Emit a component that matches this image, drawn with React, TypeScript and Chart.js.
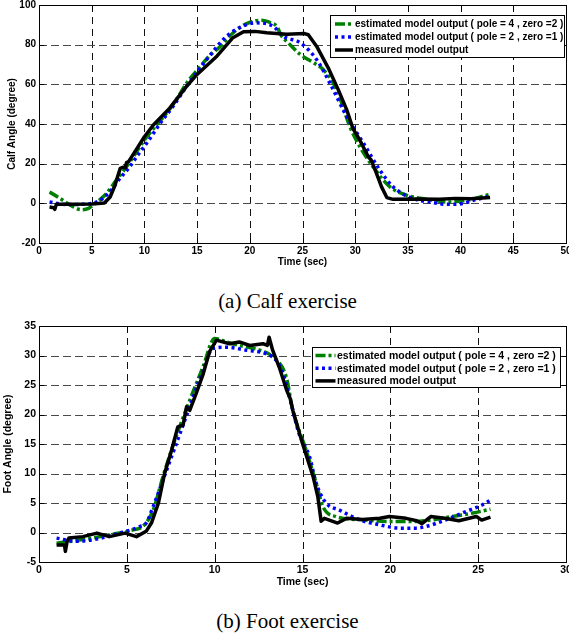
import React, { useEffect, useRef } from 'react';
import { Chart, registerables } from 'chart.js';

Chart.register(...registerables);

// ---------- DATA ----------
const SERIES_LABELS = [
  'estimated model output ( pole = 4 , zero =2 )',
  'estimated model output ( pole = 2 , zero =1 )',
  'measured model output',
];

// (a) Calf exercise
const calfXRange = [0, 50];
const calfYRange = [-20, 100];
const calfXStep = 5;
const calfYStep = 20;

const calfGreenT = [1.0, 2.0, 3.0, 4.0, 4.7, 5.5, 6.4, 7.3, 8.3, 9.2, 10.0, 11.0, 12.1, 13.0, 14.0, 15.3, 16.2, 17.2, 18.4, 19.7, 21.1, 22.0, 22.55, 23.0, 23.65, 24.8, 26.0, 27.0, 28.25, 29.5, 30.45, 31.7, 33.3, 34.9, 37.1, 38.7, 40.6, 42.8];
const calfGreenY = [5.7, 2.5, -1.0, -3.2, -2.5, 0.7, 4.9, 11.5, 18.4, 25.5, 31.9, 38.5, 45.4, 52.0, 60.6, 69.0, 74.5, 79.1, 85.9, 90.6, 92.3, 91.0, 89.3, 84.5, 80.9, 75.0, 71.0, 67.3, 57.2, 38.6, 28.5, 18.4, 8.3, 4.05, 1.85, 0.7, 1.5, 4.6];

const calfBlueT = [1.0, 2.0, 3.0, 4.0, 5.0, 5.8, 6.7, 7.6, 8.6, 9.4, 10.2, 11.5, 12.8, 14.0, 15.9, 17.8, 19.7, 20.65, 22.2, 23.2, 24.8, 26.35, 27.6, 29.2, 30.8, 32.35, 33.6, 35.5, 37.1, 38.7, 39.9, 41.5, 42.8];
const calfBlueY = [0.7, -0.3, -0.6, -0.5, 0.0, 1.5, 5.7, 12.0, 18.4, 24.5, 30.2, 40.3, 49.5, 58.9, 72.4, 84.2, 90.1, 91.0, 89.3, 84.2, 80.9, 72.4, 60.6, 43.7, 30.2, 16.7, 8.3, 2.4, 0.7, -0.5, -0.3, 1.9, 3.6];

const calfBlackT = [1.0, 1.4, 1.5, 1.65, 3.0, 5.0, 6.2, 6.75, 7.2, 7.7, 8.0, 8.2, 8.3, 8.5, 9.3, 10.0, 10.85, 12.4, 14.0, 15.0, 16.9, 18.4, 19.4, 20.5, 21.6, 23.5, 25.2, 25.55, 26.35, 27.45, 28.4, 29.2, 29.8, 30.2, 30.6, 31.0, 31.25, 31.5, 31.9, 32.5, 33.0, 33.6, 36.0, 38.0, 39.5, 41.0, 42.8];
const calfBlackY = [-1.9, -2.2, -3.0, -0.5, -0.4, -0.3, 0.2, 3.2, 9.0, 17.6, 18.2, 18.0, 20.5, 21.0, 27.7, 33.6, 39.5, 48.0, 59.0, 65.0, 74.3, 83.5, 86.5, 86.7, 86.0, 85.3, 85.6, 85.0, 79.1, 68.2, 57.2, 47.1, 37.5, 34.0, 30.2, 26.0, 23.4, 22.0, 16.7, 8.3, 2.9, 2.0, 2.2, 2.0, 2.5, 2.3, 3.0];

// (b) Foot exercise
const footXRange = [0, 30];
const footYRange = [-5, 35];
const footXStep = 5;
const footYStep = 5;

const footGreenT = [1.0, 2.5, 4.0, 5.36, 5.9, 6.5, 7.06, 7.8, 8.58, 9.34, 10.0, 10.66, 11.4, 12.56, 13.3, 14.07, 14.45, 15.2, 15.78, 16.16, 16.9, 18.4, 19.94, 21.3, 22.4, 23.5, 24.7, 25.7];
const footGreenY = [-1.8, -1.2, -0.4, 0.45, 1.0, 3.8, 9.5, 16.2, 22.4, 28.1, 32.9, 32.3, 31.7, 30.9, 29.8, 26.4, 20.7, 14.0, 8.35, 4.4, 2.7, 2.15, 1.86, 1.86, 2.15, 2.7, 3.3, 3.95];

const footBlueT = [1.0, 2.14, 3.47, 4.6, 5.74, 6.1, 6.5, 7.06, 7.82, 8.58, 9.34, 9.9, 10.66, 11.8, 12.94, 13.5, 13.9, 14.3, 14.8, 15.4, 15.78, 16.34, 17.1, 18.24, 19.4, 20.5, 21.46, 22.0, 23.16, 24.3, 25.25, 25.7];
const footBlueY = [-0.95, -1.5, -1.0, -0.1, 1.0, 1.6, 4.4, 8.9, 15.1, 21.3, 27.5, 31.2, 31.4, 30.9, 30.3, 29.2, 26.9, 22.5, 16.8, 12.85, 8.35, 5.0, 3.8, 2.15, 1.3, 0.74, 0.74, 1.0, 2.15, 3.55, 4.7, 5.5];

const footBlackT = [1.0, 1.45, 1.5, 1.6, 1.7, 2.5, 3.3, 4.0, 4.9, 5.55, 6.1, 6.4, 6.8, 7.15, 7.55, 7.9, 8.2, 8.4, 8.58, 8.95, 9.35, 9.7, 10.1, 10.85, 11.4, 12.0, 12.75, 13.0, 13.1, 13.3, 13.7, 14.1, 14.3, 14.45, 15.0, 15.6, 15.87, 16.06, 16.25, 17.0, 17.5, 18.4, 19.4, 19.95, 20.9, 21.5, 21.8, 22.3, 23.1, 23.9, 24.9, 25.2, 25.7];
const footBlackY = [-2.1, -2.1, -3.2, -1.5, -0.95, -0.7, -0.1, -0.7, -0.1, -0.7, 0.2, 1.6, 5.0, 10.0, 14.0, 17.9, 18.2, 21.3, 20.7, 23.6, 26.9, 30.6, 32.6, 32.0, 32.3, 31.7, 32.0, 31.7, 33.1, 30.9, 27.8, 24.1, 22.7, 20.7, 15.1, 9.5, 6.1, 1.9, 2.4, 1.6, 2.4, 2.2, 2.4, 2.7, 2.4, 2.0, 1.5, 2.7, 2.4, 2.0, 2.7, 2.1, 2.6];

const CAPTION_A = '(a) Calf exercise';
const CAPTION_B = '(b) Foot exercise';
const X_TITLE = 'Time (sec)';
const CALF_Y_TITLE = 'Calf Angle (degree)';
const FOOT_Y_TITLE = 'Foot Angle (degree)';

// ---------- HELPERS ----------
const FONT = '"Liberation Sans", Arial, sans-serif';

function pts(t: number[], y: number[]) {
  return t.map((x, i) => ({ x, y: y[i] }));
}

const gridPlugin = {
  id: 'dashGrid',
  beforeDatasetsDraw(chart: any) {
    const { ctx, chartArea } = chart;
    const { left, top, right, bottom } = chartArea;
    const xs = chart.scales.x;
    const ys = chart.scales.y;
    ctx.save();
    ctx.lineWidth = 1;
    ctx.setLineDash([7, 5]);
    ctx.strokeStyle = '#111';
    ctx.beginPath();
    xs.ticks.forEach((t: any) => {
      const raw = xs.getPixelForValue(t.value);
      if (Math.abs(raw - left) < 2 || Math.abs(raw - right) < 2) return;
      const px = Math.round(raw) + 0.5;
      ctx.moveTo(px, top);
      ctx.lineTo(px, bottom);
    });
    ctx.stroke();
    ctx.setLineDash([8, 4]);
    ctx.strokeStyle = '#4a4a4a';
    ctx.beginPath();
    ys.ticks.forEach((t: any) => {
      const raw = ys.getPixelForValue(t.value);
      if (Math.abs(raw - top) < 2 || Math.abs(raw - bottom) < 2) return;
      const py = Math.round(raw) + 0.5;
      ctx.moveTo(left, py);
      ctx.lineTo(right, py);
    });
    ctx.stroke();
    ctx.restore();
  },
};

const framePlugin = {
  id: 'frameLegend',
  afterDraw(chart: any, _args: any, opts: any) {
    const { ctx, chartArea } = chart;
    const { left, top, right, bottom } = chartArea;
    ctx.save();
    ctx.strokeStyle = '#000';
    ctx.lineWidth = 1;
    ctx.setLineDash([]);
    const L = Math.round(left) + 0.5;
    const T = Math.round(top) + 0.5;
    const R = Math.round(right) + 0.5;
    const B = Math.round(bottom) + 0.5;
    ctx.strokeRect(L, T, R - L, B - T);
    // inward tick marks
    const xs = chart.scales.x;
    const ys = chart.scales.y;
    ctx.beginPath();
    xs.ticks.forEach((t: any) => {
      const px = Math.round(xs.getPixelForValue(t.value)) + 0.5;
      ctx.moveTo(px, B);
      ctx.lineTo(px, B - 5);
      ctx.moveTo(px, T);
      ctx.lineTo(px, T + 5);
    });
    ys.ticks.forEach((t: any) => {
      const py = Math.round(ys.getPixelForValue(t.value)) + 0.5;
      ctx.moveTo(L, py);
      ctx.lineTo(L + 5, py);
      ctx.moveTo(R, py);
      ctx.lineTo(R - 5, py);
    });
    ctx.stroke();

    // legend box
    const lg = opts.legend;
    const bx = Math.round(right - lg.right - lg.width);
    const by = Math.round(top + lg.top);
    ctx.fillStyle = '#fff';
    ctx.fillRect(bx, by, lg.width, lg.height);
    ctx.strokeStyle = '#000';
    ctx.lineWidth = 1;
    ctx.strokeRect(bx + 0.5, by + 0.5, lg.width, lg.height);
    chart.data.datasets.forEach((ds: any, i: number) => {
      const cy = by + lg.firstRow + i * lg.rowGap;
      ctx.save();
      ctx.strokeStyle = ds.borderColor;
      ctx.lineWidth = ds.borderWidth;
      ctx.lineCap = 'butt';
      ctx.setLineDash(ds.borderDash || []);
      ctx.beginPath();
      ctx.moveTo(bx + lg.sampleStart, cy);
      ctx.lineTo(bx + lg.sampleEnd, cy);
      ctx.stroke();
      ctx.restore();
      ctx.fillStyle = '#000';
      ctx.font = `bold ${lg.font}px ${FONT}`;
      ctx.textBaseline = 'middle';
      ctx.textAlign = 'left';
      ctx.fillText(ds.label, bx + lg.textX, cy + 0.5);
    });
    ctx.restore();
  },
};

function makeConfig(p: any) {
  const fontTick = { family: FONT, weight: 'bold' as const, size: p.fontSize };
  return {
    type: 'line' as const,
    data: {
      datasets: [
        {
          label: SERIES_LABELS[0],
          data: pts(p.greenT, p.greenY),
          borderColor: '#008000',
          borderWidth: 3.5,
          borderDash: [10, 3, 3, 3],
          borderCapStyle: 'butt',
          pointRadius: 0,
          cubicInterpolationMode: 'monotone',
          fill: false,
          order: 3,
        },
        {
          label: SERIES_LABELS[1],
          data: pts(p.blueT, p.blueY),
          borderColor: '#0000ff',
          borderWidth: 3.5,
          borderDash: [3, 3.5],
          borderCapStyle: 'butt',
          pointRadius: 0,
          cubicInterpolationMode: 'monotone',
          fill: false,
          order: 2,
        },
        {
          label: SERIES_LABELS[2],
          data: pts(p.blackT, p.blackY),
          borderColor: '#000000',
          borderWidth: 3.5,
          borderJoinStyle: 'round',
          pointRadius: 0,
          tension: 0,
          fill: false,
          order: 1,
        },
      ],
    },
    options: {
      animation: false,
      responsive: false,
      devicePixelRatio: 1,
      layout: { padding: p.padding },
      plugins: {
        legend: { display: false },
        tooltip: { enabled: false },
        frameLegend: { legend: p.legend },
      },
      scales: {
        x: {
          type: 'linear',
          min: p.xRange[0],
          max: p.xRange[1],
          ticks: {
            stepSize: p.xStep,
            color: '#000',
            font: fontTick,
            padding: 2,
            maxRotation: 0,
            autoSkip: false,
          },
          grid: { display: false, drawTicks: false },
          border: { display: false },
          title: {
            display: true,
            text: X_TITLE,
            color: '#000',
            font: fontTick,
            padding: 0,
          },
          afterFit: (s: any) => {
            s.height = p.xAxisH;
          },
        },
        y: {
          type: 'linear',
          min: p.yRange[0],
          max: p.yRange[1],
          ticks: {
            stepSize: p.yStep,
            color: '#000',
            font: fontTick,
            padding: 3,
          },
          grid: { display: false, drawTicks: false },
          border: { display: false },
          title: {
            display: true,
            text: p.yTitle,
            color: '#000',
            font: fontTick,
            padding: { top: p.yTitlePad, bottom: 0 },
          },
          afterFit: (s: any) => {
            s.width = 39;
          },
        },
      },
    },
    plugins: [gridPlugin, framePlugin],
  };
}

function ChartCanvas({ config, top, width, height }: any) {
  const ref = useRef<HTMLCanvasElement | null>(null);
  useEffect(() => {
    if (!ref.current) return;
    const chart = new Chart(ref.current, config as any);
    return () => chart.destroy();
  }, []);
  return (
    <canvas
      ref={ref}
      width={width}
      height={height}
      style={{ position: 'absolute', left: 0, top, width, height, display: 'block' }}
    />
  );
}

const calfConfig = makeConfig({
  greenT: calfGreenT, greenY: calfGreenY,
  blueT: calfBlueT, blueY: calfBlueY,
  blackT: calfBlackT, blackY: calfBlackY,
  xRange: calfXRange, yRange: calfYRange, xStep: calfXStep, yStep: calfYStep,
  yTitle: CALF_Y_TITLE,
  fontSize: 10,
  yTitlePad: 6,
  xAxisH: 25,
  padding: { top: 10, left: 0, right: 34, bottom: 12 },
  legend: { right: 2, top: 10, width: 234, height: 42, firstRow: 9, rowGap: 13, sampleStart: 5, sampleEnd: 23, textX: 25, font: 10 },
});

const footConfig = makeConfig({
  greenT: footGreenT, greenY: footGreenY,
  blueT: footBlueT, blueY: footBlueY,
  blackT: footBlackT, blackY: footBlackY,
  xRange: footXRange, yRange: footYRange, xStep: footXStep, yStep: footYStep,
  yTitle: FOOT_Y_TITLE,
  fontSize: 10.5,
  yTitlePad: 1.7,
  xAxisH: 26,
  padding: { top: 10, left: 0, right: 34, bottom: 11 },
  legend: { right: 6, top: 20.5, width: 248, height: 40, firstRow: 8.5, rowGap: 12.7, sampleStart: 3.5, sampleEnd: 23.5, textX: 25, font: 10.5 },
});

const captionStyle: React.CSSProperties = {
  position: 'absolute',
  left: 0,
  width: 575,
  textAlign: 'center',
  fontFamily: '"Liberation Serif", "Times New Roman", serif',
  fontSize: 21,
  lineHeight: '21px',
  color: '#000',
  whiteSpace: 'nowrap',
};

export default function App() {
  return (
    <div
      style={{
        position: 'absolute',
        left: 0,
        top: 0,
        width: 569,
        height: 639,
        overflow: 'hidden',
        background: '#fff',
      }}
    >
      <ChartCanvas config={calfConfig} top={-5} width={600} height={285} />
      <div style={{ ...captionStyle, top: 291 }}>{CAPTION_A}</div>
      <ChartCanvas config={footConfig} top={316} width={600} height={283} />
      <div style={{ ...captionStyle, top: 611 }}>{CAPTION_B}</div>
    </div>
  );
}
